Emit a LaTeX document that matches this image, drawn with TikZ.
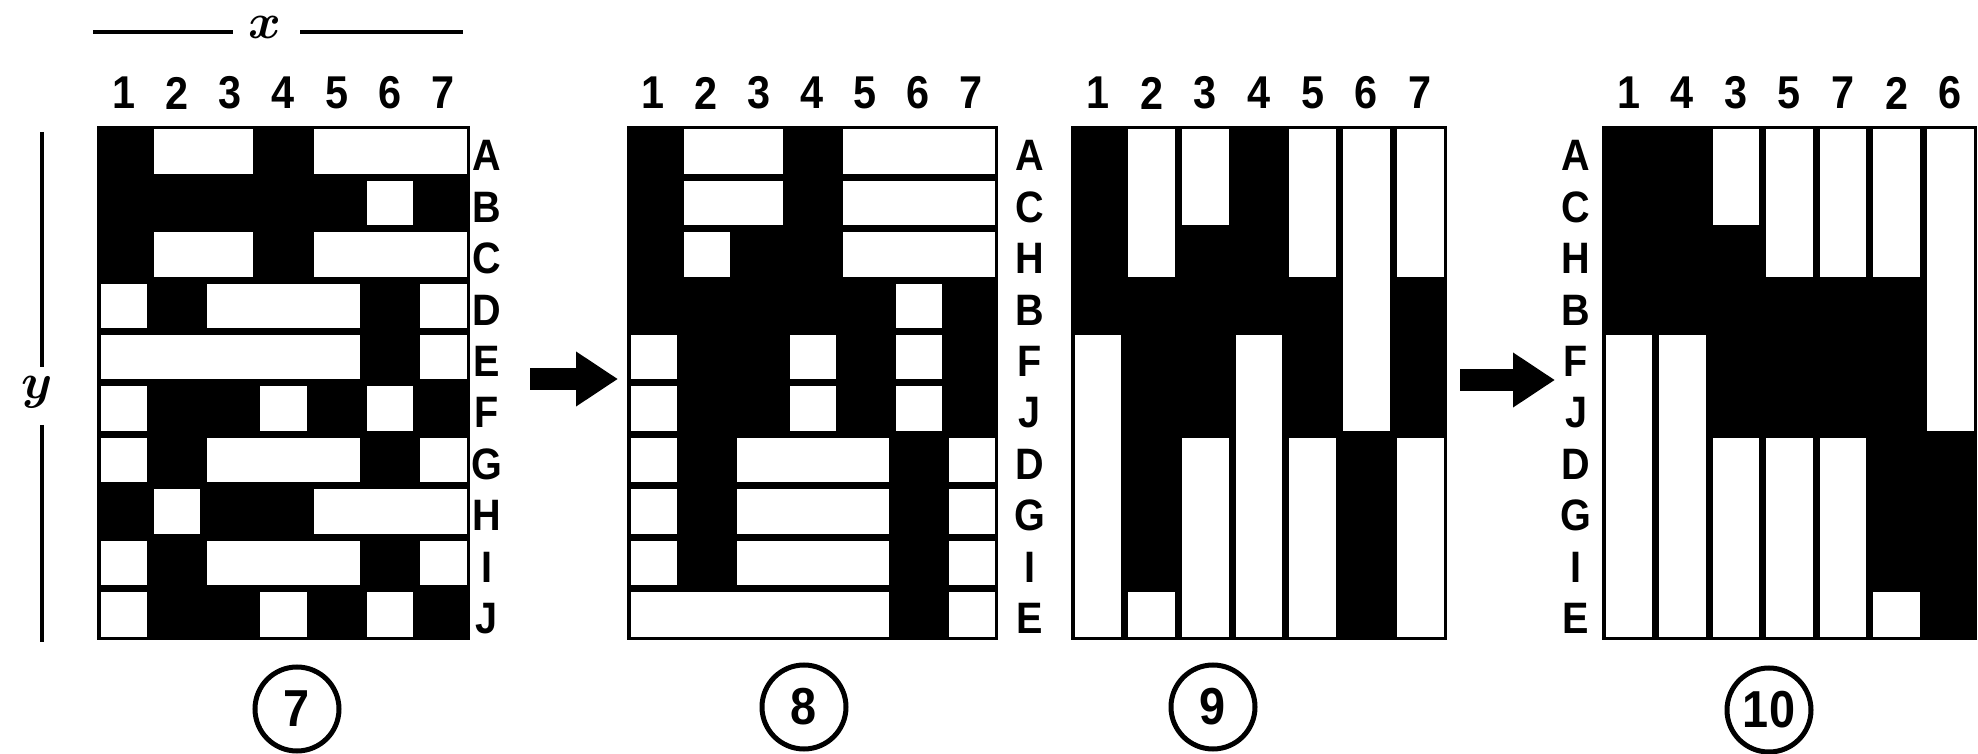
\documentclass[tikz,border=0pt]{standalone}
\usepackage[no-math]{fontspec}
\newfontfamily\labfont{Liberation Sans}[FakeStretch=0.9]
\usetikzlibrary{arrows.meta}
\newcommand{\cellgap}{3.5}
\newcommand{\hruns}[5]{%
  \foreach \r/\a/\b in {#5} {\fill[white] ({#1+(\a-1)*#3+\cellgap},{#2+(\r-1)*#4+\cellgap}) rectangle ({#1+\b*#3-\cellgap},{#2+\r*#4-\cellgap});}}
\newcommand{\vruns}[5]{%
  \foreach \c/\a/\b in {#5} {\fill[white] ({#1+(\c-1)*#3+\cellgap},{#2+(\a-1)*#4+\cellgap}) rectangle ({#1+\c*#3-\cellgap},{#2+\b*#4-\cellgap});}}
\begin{document}
\begin{tikzpicture}[x=0.5pt,y=-0.5pt,
  mbox/.style={fill=black,inner sep=0pt,outer sep=0pt,anchor=north west,minimum height=257pt},
  colnum/.style={font=\labfont\bfseries\fontsize{23}{23}\selectfont,inner sep=0pt},
  rowlab/.style={font=\labfont\bfseries\fontsize{22}{22}\selectfont,inner sep=0pt},
  circnum/.style={circle,draw,line width=2.5pt,minimum size=42pt,inner sep=0pt,font=\labfont\bfseries\fontsize{26}{26}\selectfont},
  bigarrow/.style={line width=11pt,-{Triangle[length=21pt,width=26pt]}},
  axisline/.style={line width=1.6pt},
  axislab/.style={font=\boldmath\fontsize{36}{36}\selectfont,inner sep=0pt}]
\useasboundingbox (0,0) rectangle (1978,754);
\fill[white] (0,0) rectangle (1978,754);

% axes of matrix 7
\node[axislab] (xlab) at (265,27) {$x$};
\coordinate (xL1) at (93,32); \coordinate (xL2) at (233,32);
\coordinate (xR1) at (300,32); \coordinate (xR2) at (463,32);
\draw[axisline] (xL1) -- (xL2);
\draw[axisline] (xR1) -- (xR2);
\node[axislab] (ylab) at (37,392) {$y$};
\coordinate (yT1) at (42,132); \coordinate (yT2) at (42,367);
\coordinate (yB1) at (42,425); \coordinate (yB2) at (42,642);
\draw[line width=2pt] (yT1) -- (yT2);
\draw[line width=2pt] (yB1) -- (yB2);

% ---------- matrix 7 ----------
\node[mbox,minimum width=186.5pt] (m7) at (97,126) {};
\hruns{97}{126}{53.286}{51.4}{1/2/3,1/5/7,2/6/6,3/2/3,3/5/7,4/1/1,4/3/5,4/7/7,5/1/5,5/7/7,6/1/1,6/4/4,6/6/6,7/1/1,7/3/5,7/7/7,8/2/2,8/5/7,9/1/1,9/3/5,9/7/7,10/1/1,10/4/4,10/6/6}
\foreach \i/\t in {1/1,2/2,3/3,4/4,5/5,6/6,7/7}
  \node[colnum] (m7c\i) at ({97+(\i-0.5)*53.286},93) {\t};
\foreach \i/\t in {1/A,2/B,3/C,4/D,5/E,6/F,7/G,8/H,9/I,10/J}
  \node[rowlab] (m7r\i) at (487,{126+(\i-0.5)*51.4+4}) {\t};
\node[circnum] (n7) at (297,709) {7};

% ---------- matrix 8 ----------
\node[mbox,minimum width=185.5pt] (m8) at (627,126) {};
\hruns{627}{126}{53.0}{51.4}{1/2/3,1/5/7,2/2/3,2/5/7,3/2/2,3/5/7,4/6/6,5/1/1,5/4/4,5/6/6,6/1/1,6/4/4,6/6/6,7/1/1,7/3/5,7/7/7,8/1/1,8/3/5,8/7/7,9/1/1,9/3/5,9/7/7,10/1/5,10/7/7}
\foreach \i/\t in {1/1,2/2,3/3,4/4,5/5,6/6,7/7}
  \node[colnum] (m8c\i) at ({627+(\i-0.5)*53.0},93) {\t};
\foreach \i/\t in {1/A,2/C,3/H,4/B,5/F,6/J,7/D,8/G,9/I,10/E}
  \node[rowlab] (m8r\i) at (1030,{126+(\i-0.5)*51.4+4}) {\t};
\node[circnum] (n8) at (804,707) {8};

% ---------- matrix 9 ----------
\node[mbox,minimum width=188pt] (m9) at (1071,126) {};
\vruns{1071}{126}{53.714}{51.4}{1/5/10,2/1/3,2/10/10,3/1/2,3/7/10,4/5/10,5/1/3,5/7/10,6/1/6,7/1/3,7/7/10}
\foreach \i/\t in {1/1,2/2,3/3,4/4,5/5,6/6,7/7}
  \node[colnum] (m9c\i) at ({1071+(\i-0.5)*53.714},93) {\t};
\node[circnum] (n9) at (1213,707) {9};

% ---------- matrix 10 ----------
\node[mbox,minimum width=187.5pt] (m10) at (1602,126) {};
\vruns{1602}{126}{53.571}{51.4}{1/5/10,2/5/10,3/1/2,3/7/10,4/1/3,4/7/10,5/1/3,5/7/10,6/1/3,6/10/10,7/1/6}
\foreach \i/\t in {1/1,2/4,3/3,4/5,5/7,6/2,7/6}
  \node[colnum] (m10c\i) at ({1602+(\i-0.5)*53.571},93) {\t};
\foreach \i/\t in {1/A,2/C,3/H,4/B,5/F,6/J,7/D,8/G,9/I,10/E}
  \node[rowlab] (m10r\i) at (1576,{126+(\i-0.5)*51.4+4}) {\t};
\node[circnum] (n10) at (1769,710) {10};

% ---------- arrows ----------
\coordinate (a1s) at (530,379); \coordinate (a1e) at (618,379);
\draw[bigarrow] (a1s) -- (a1e);
\coordinate (a2s) at (1460,380); \coordinate (a2e) at (1555,380);
\draw[bigarrow] (a2s) -- (a2e);
\end{tikzpicture}
\end{document}
